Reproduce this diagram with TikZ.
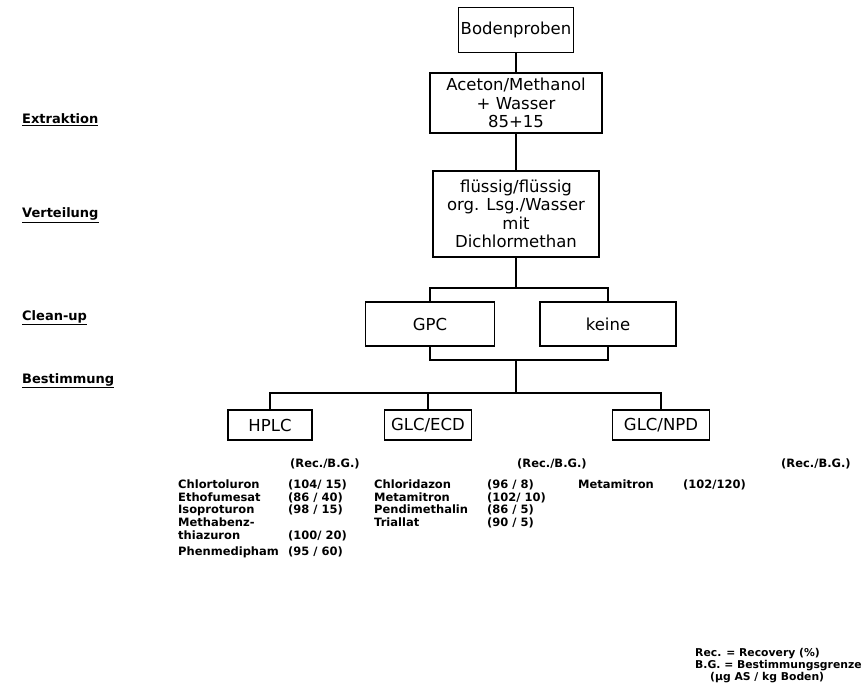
\documentclass[tikz,border=0pt]{standalone}
\usepackage{fontspec}
\setmainfont{DejaVu Sans}
\usetikzlibrary{positioning}

\tikzset{
  stage/.style={draw, line width=1.1pt, align=center, inner sep=2pt,
    font=\fontsize{16.5}{18.5}\selectfont},
  phase/.style={anchor=base west, inner sep=0pt,
    font=\bfseries\fontsize{13}{15}\selectfont},
  entry/.style={anchor=base west, inner sep=0pt,
    font=\bfseries\fontsize{11.5}{12.7}\selectfont},
  legend/.style={anchor=base west, inner sep=0pt,
    font=\bfseries\fontsize{10.8}{12}\selectfont},
  link/.style={line width=1.2pt}
}

\begin{document}
\begin{tikzpicture}[x=1pt, y=-1pt]
  \useasboundingbox (0,0) rectangle (865,695);

  % Phasen links
  \node[phase] (extr) at (22,124) {\underline{Extraktion}};
  \node[phase] (vert) at (22,218) {\underline{Verteilung}};
  \node[phase] (clean) at (22,320) {\underline{Clean-up}};
  \node[phase] (best) at (22,383) {\underline{Bestimmung}};

  % Ablauf
  \node[stage, minimum width=111pt, minimum height=45pt] (boden) at (516,30) {Bodenproben};
  \node[stage, minimum width=172pt, minimum height=60pt] (aceton) at (516,103)
    {Aceton/Methanol\\+ Wasser\\85+15};
  \node[stage, minimum width=166pt, minimum height=86pt] (fluessig) at (516,214)
    {flüssig/flüssig\\org. Lsg./Wasser\\mit\\Dichlormethan};
  \node[stage, minimum width=129pt, minimum height=44pt] (gpc) at (430,324) {GPC};
  \node[stage, minimum width=136pt, minimum height=44pt] (keine) at (608,324) {keine};
  \node[stage, minimum width=84pt, minimum height=30pt] (hplc) at (270,425) {HPLC};
  \node[stage, minimum width=87pt, minimum height=30pt] (ecd) at (428,425) {GLC/ECD};
  \node[stage, minimum width=97pt, minimum height=30pt] (npd) at (661,425) {GLC/NPD};

  % Verzweigungen
  \coordinate (teil) at (516,288);
  \coordinate (zus) at (516,360);
  \coordinate (verz) at (516,393);
  \draw[link] (boden) -- (aceton);
  \draw[link] (aceton) -- (fluessig);
  \draw[link] (fluessig) -- (teil);
  \draw[link] (gpc.north) |- (teil) -| (keine.north);
  \draw[link] (gpc.south) |- (zus) -| (keine.south);
  \draw[link] (zus) -- (verz);
  \draw[link] (hplc.north) |- (verz) -| (npd.north);
  \draw[link] (ecd.north) -- (ecd.north |- verz);

  % Ergebnisse
  \node[entry] (kh) at (290,467) {(Rec./B.G.)};
  \node[entry] (ke) at (517,467) {(Rec./B.G.)};
  \node[entry] (kn) at (781,467) {(Rec./B.G.)};
  \foreach \y/\name/\val in {488/Chlortoluron/{(104/ 15)}, 501/Ethofumesat/{(86 / 40)},
      513/Isoproturon/{(98 / 15)}, 526/Methabenz-/{}, 539/thiazuron/{(100/ 20)},
      555/Phenmedipham/{(95 / 60)}} {
    \node[entry] (hn\y) at (178,\y) {\name};
    \node[entry] (hv\y) at (288,\y) {\val};
  }
  \foreach \y/\name/\val in {488/Chloridazon/{(96 / 8)}, 501/Metamitron/{(102/ 10)},
      513/Pendimethalin/{(86 / 5)}, 526/Triallat/{(90 / 5)}} {
    \node[entry] (en\y) at (374,\y) {\name};
    \node[entry] (ev\y) at (487,\y) {\val};
  }
  \node[entry] (nn) at (578,488) {Metamitron};
  \node[entry] (nv) at (683,488) {(102/120)};

  % Legende
  \node[legend] (leg1) at (695,656) {Rec. = Recovery (\%)};
  \node[legend] (leg2) at (695,668) {B.G. = Bestimmungsgrenze};
  \node[legend] (leg3) at (710,680) {(µg AS / kg Boden)};
\end{tikzpicture}
\end{document}
